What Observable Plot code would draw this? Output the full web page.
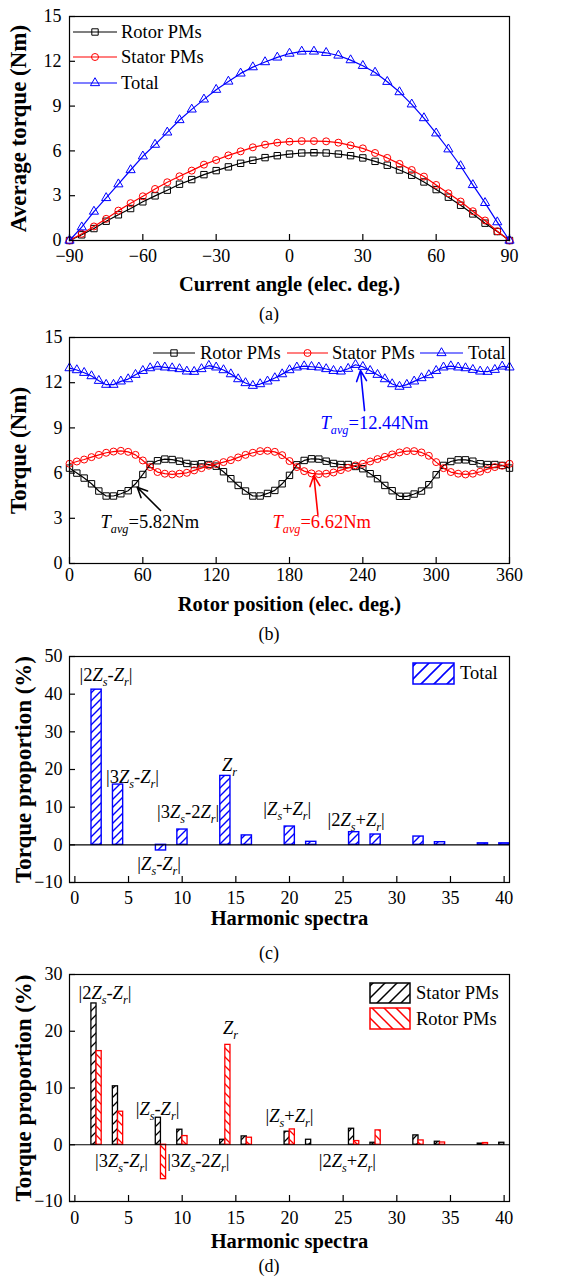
<!DOCTYPE html>
<html>
<head>
<meta charset="utf-8">
<script src="https://cdn.jsdelivr.net/npm/d3@7"></script>
<script src="https://cdn.jsdelivr.net/npm/@observablehq/plot@0.6"></script>
<style>
  body { margin: 0; background: #fff; }
  #fig { position: relative; width: 581px; height: 1278px; background: #fff; overflow: hidden; }
</style>
</head>
<body>
<div id="fig"></div>
<script>
// ---------- (a) average torque versus current angle ----------
const currentAngle = [-90,-85,-80,-75,-70,-65,-60,-55,-50,-45,-40,-35,-30,-25,-20,-15,-10,-5,0,5,10,15,20,25,30,35,40,45,50,55,60,65,70,75,80,85,90];
const avgRotor  = [0,0.38,0.80,1.29,1.72,2.14,2.59,2.99,3.37,3.77,4.08,4.41,4.68,4.93,5.17,5.37,5.55,5.68,5.79,5.86,5.88,5.86,5.79,5.68,5.53,5.30,5.04,4.72,4.37,3.92,3.41,2.90,2.36,1.78,1.16,0.60,0];
const avgStator = [0,0.45,0.94,1.45,2.00,2.50,2.96,3.45,3.90,4.30,4.68,5.08,5.39,5.70,5.97,6.24,6.42,6.55,6.62,6.66,6.66,6.64,6.55,6.37,6.17,5.86,5.53,5.13,4.72,4.28,3.72,3.16,2.61,1.96,1.34,0.62,0];
const avgTotal  = [0,0.89,1.94,2.85,3.77,4.72,5.64,6.42,7.24,8.07,8.78,9.45,10.10,10.65,11.19,11.61,11.95,12.26,12.52,12.66,12.66,12.57,12.39,12.08,11.70,11.25,10.63,9.94,9.12,8.20,7.18,6.11,4.99,3.72,2.52,1.23,0];
const angleTicks = [-90,-60,-30,0,30,60,90];
const torqueTicks = [0,3,6,9,12,15];

// ---------- (b) torque versus rotor position ----------
const rotorPosition = [0,6,12,18,24,30,36,42,48,54,60,66,72,78,84,90,96,102,108,114,120,126,132,138,144,150,156,162,168,174,180,186,192,198,204,210,216,222,228,234,240,246,252,258,264,270,276,282,288,294,300,306,312,318,324,330,336,342,348,354,360];
const instRotor = [6.33,6.00,5.67,5.29,4.81,4.48,4.48,4.63,4.83,5.29,5.91,6.57,6.82,6.93,6.90,6.79,6.64,6.57,6.62,6.57,6.46,
  6.09,5.63,5.18,4.81,4.48,4.48,4.65,4.85,5.29,5.85,6.55,6.84,6.95,6.93,6.79,6.64,6.57,6.57,6.44,6.29,
  5.96,5.63,5.18,4.83,4.46,4.46,4.61,4.81,5.23,5.89,6.51,6.77,6.88,6.88,6.79,6.62,6.57,6.57,6.51,6.33];
const instStator = [6.62,6.77,6.90,7.06,7.21,7.35,7.43,7.48,7.41,7.21,6.84,6.40,6.07,5.96,5.91,5.96,6.02,6.18,6.33,6.49,6.60,
  6.73,6.86,7.04,7.21,7.35,7.46,7.48,7.41,7.19,6.80,6.40,6.13,5.98,5.93,5.96,6.04,6.20,6.35,6.51,6.62,
  6.77,6.93,7.08,7.24,7.37,7.46,7.46,7.37,7.15,6.73,6.33,6.07,5.96,5.91,5.96,6.09,6.26,6.40,6.49,6.62];
const instTotal = [12.97,12.84,12.66,12.44,12.13,11.87,11.87,12.09,12.24,12.53,12.79,12.97,13.08,13.02,12.97,12.91,12.75,12.73,12.91,13.13,13.02,
  12.84,12.57,12.24,11.98,11.80,11.91,12.09,12.31,12.57,12.84,13.02,13.10,13.06,13.02,12.91,12.79,12.75,12.93,13.19,13.06,
  12.79,12.53,12.24,11.91,11.74,11.87,12.09,12.31,12.51,12.79,13.02,13.10,13.02,12.97,12.86,12.75,12.73,12.86,13.08,13.02];
const positionTicks = [0,60,120,180,240,300,360];
// average-torque callouts: label anchor and arrow (tail -> head), in data units
const avgNames  = ["T_avg=5.82Nm", "T_avg=6.62Nm", "T_avg=12.44Nm"];
const avgLabelX = [25.4, 166.1, 205.4];
const avgLabelY = [2.72, 2.72, 9.33];
const avgArrowX1 = [74.5, 203.2, 241.4];
const avgArrowY1 = [3.52, 3.25, 10.15];
const avgArrowX2 = [55.4, 199.9, 238.1];
const avgArrowY2 = [5.06, 5.84, 12.81];

// ---------- (c), (d) harmonic torque proportion ----------
const harmonicOrder = [2,4,8,10,14,16,20,22,26,28,32,34,38,40];
const shareTotal  = [41.2,16.0,-1.5,4.06,18.3,2.5,4.86,0.8,3.36,2.74,2.2,0.7,0.4,0.4];
const shareStator = [24.9,10.3,4.76,2.65,0.88,1.47,2.3,0.88,2.82,0.35,1.65,0.53,0.2,0.35];
const shareRotor  = [16.5,5.82,-6.06,1.53,17.6,1.24,2.7,0,0.65,2.53,0.76,0.4,0.3,0];
const harmonicTicks = [0,5,10,15,20,25,30,35,40];
const shareTicksC = [-10,0,10,20,30,40,50];
const shareTicksD = [-10,0,10,20,30];
const termNamesC = ["|2Z_s-Z_r|","|3Z_s-Z_r|","Z_r","|3Z_s-2Z_r|","|Z_s+Z_r|","|2Z_s+Z_r|","|Z_s-Z_r|"];
const termXC = [2.9,5.37,14.4,10.56,19.8,26.2,7.86];
const termYC = [45.1,18.1,21.3,8.6,9.36,6.6,-5.1];
const termNamesD = ["|2Z_s-Z_r|","Z_r","|Z_s-Z_r|","|Z_s+Z_r|","|3Z_s-Z_r|","|3Z_s-2Z_r|","|2Z_s+Z_r|"];
const termXD = [2.8,14.5,7.7,20.0,4.35,11.5,25.4];
const termYD = [26.7,20.5,6.2,5.0,-2.9,-2.9,-2.9];

// ---------- styling ----------
const serif = '"Liberation Serif", "Times New Roman", serif';
const BLACK = "#000000", RED = "#ff0000", BLUE = "#0000ff";
const W = 581, ML = 69, MR = 72, PW = W - ML - MR;
const TICK_FONT = 18, XTITLE_FONT = 20.5, YTITLE_FONT = 23, NOTE_FONT = 18.5;
const fig = document.getElementById("fig");

const seriesA = [
  {name: "Rotor PMs",  values: avgRotor,  color: BLACK, symbol: "square",   r: 3.6},
  {name: "Stator PMs", values: avgStator, color: RED,   symbol: "circle",   r: 3.5},
  {name: "Total",      values: avgTotal,  color: BLUE,  symbol: "triangle", r: 3.4}
];
const seriesB = [
  {name: "Rotor PMs",  values: instRotor,  color: BLACK, symbol: "square",   r: 3.6},
  {name: "Stator PMs", values: instStator, color: RED,   symbol: "circle",   r: 3.5},
  {name: "Total",      values: instTotal,  color: BLUE,  symbol: "triangle", r: 3.4}
];
const avgColors = [BLACK, RED, BLUE];

function lineMarks(xs, series) {
  const marks = [];
  for (const s of series) {
    const rows = xs.map((x, i) => ({x, y: s.values[i]}));
    marks.push(Plot.line(rows, {x: "x", y: "y", stroke: s.color, strokeWidth: 1.2}));
    marks.push(Plot.dot(rows, {x: "x", y: "y", symbol: () => s.symbol, r: s.r, stroke: s.color, strokeWidth: 1, fill: "none"}));
  }
  return marks;
}

// italic Z/T and italic subscripts written as _xyz
function richText(root) {
  d3.select(root).selectAll("text")
    .filter(function() { return this.textContent.includes("_"); })
    .each(function() {
      const src = this.textContent;
      const el = d3.select(this);
      el.text(null);
      let shifted = false;
      for (const m of src.matchAll(/([ZT])|_([a-z]+)|([^ZT_]+)/g)) {
        const t = el.append("tspan");
        if (m[2]) {
          t.text(m[2]).attr("font-style", "italic").attr("font-size", "0.66em").attr("dy", 5);
          shifted = true;
          continue;
        }
        if (m[1]) t.text(m[1]).attr("font-style", "italic");
        else t.text(m[3]);
        if (shifted) { t.attr("dy", -5); shifted = false; }
      }
    });
}

function panel({top, mt, ph, mb, xDomain, yDomain, xTicks, yTicks, xPad, yPad = 7, xTitle, xTitleDy, yTitle, yTitleDx, marks, over = []}) {
  const svg = Plot.plot({
    width: W, height: mt + ph + mb,
    marginTop: mt, marginBottom: mb, marginLeft: ML, marginRight: MR,
    style: {fontFamily: serif, fontSize: TICK_FONT + "px", color: "black", background: "transparent", overflow: "visible"},
    x: {domain: xDomain, label: null},
    y: {domain: yDomain, label: null},
    marks: [
      ...marks,
      Plot.tickX(xTicks, {x: d => d, insetTop: ph - 6, stroke: BLACK, strokeWidth: 1.2}),
      Plot.tickY(yTicks, {y: d => d, insetRight: PW - 6, stroke: BLACK, strokeWidth: 1.2}),
      Plot.frame({stroke: BLACK, strokeWidth: 1.2}),
      Plot.axisX({ticks: xTicks, tickSize: 0, tickPadding: xPad, label: null, fontSize: TICK_FONT}),
      Plot.axisY({ticks: yTicks, tickSize: 0, tickPadding: yPad, label: null, fontSize: TICK_FONT}),
      Plot.text([xTitle], {frameAnchor: "bottom", lineAnchor: "middle", textAnchor: "middle", dy: xTitleDy, fontWeight: "bold", fontSize: XTITLE_FONT}),
      Plot.text([yTitle], {frameAnchor: "left", lineAnchor: "middle", textAnchor: "middle", rotate: -90, dx: yTitleDx, fontWeight: "bold", fontSize: YTITLE_FONT}),
      ...over
    ]
  });
  svg.style.position = "absolute";
  svg.style.left = "0px";
  svg.style.top = top + "px";
  fig.appendChild(svg);
  richText(svg);
  return svg;
}

// (a)
panel({
  top: 0, mt: 16, ph: 224, mb: 60,
  xDomain: [-90, 90], yDomain: [0, 15], xTicks: angleTicks, yTicks: torqueTicks, xPad: 9, yPad: 8,
  xTitle: "Current angle (elec. deg.)", xTitleDy: 44, yTitle: "Average torque (Nm)", yTitleDx: -51,
  marks: lineMarks(currentAngle, seriesA)
});

// (b)
const avgCallouts = avgNames.map((t, i) => ({t, x: avgLabelX[i], y: avgLabelY[i], x1: avgArrowX1[i], y1: avgArrowY1[i], x2: avgArrowX2[i], y2: avgArrowY2[i], c: avgColors[i]}));
panel({
  top: 320, mt: 17, ph: 226, mb: 60,
  xDomain: [0, 360], yDomain: [0, 15], xTicks: positionTicks, yTicks: torqueTicks, xPad: 5,
  xTitle: "Rotor position (elec. deg.)", xTitleDy: 41, yTitle: "Torque (Nm)", yTitleDx: -51,
  marks: lineMarks(rotorPosition, seriesB),
  over: [
    Plot.arrow(avgCallouts, {x1: "x1", y1: "y1", x2: "x2", y2: "y2", stroke: d => d.c, strokeWidth: 1.6, headLength: 11, headAngle: 50}),
    Plot.text(avgCallouts, {x: "x", y: "y", text: "t", fill: d => d.c, textAnchor: "start", fontSize: NOTE_FONT})
  ]
});

// (c)
const barsC = harmonicOrder.map((h, i) => ({h, v: shareTotal[i]}));
const termsC = termNamesC.map((t, i) => ({t, x: termXC[i], y: termYC[i]}));
panel({
  top: 640, mt: 16, ph: 226, mb: 45,
  xDomain: [-0.5, 40.5], yDomain: [-10, 50], xTicks: harmonicTicks, yTicks: shareTicksC, xPad: 9,
  xTitle: "Harmonic spectra", xTitleDy: 36, yTitle: "Torque proportion (%)", yTitleDx: -46,
  marks: [
    Plot.rect(barsC, {x1: d => d.h - 0.45, x2: d => d.h + 0.5, y1: () => 0, y2: d => d.v, fill: "url(#hatchC)", stroke: BLUE, strokeWidth: 1.4}),
    Plot.ruleY([0], {stroke: BLACK, strokeWidth: 1.2}),
    Plot.text(termsC, {x: "x", y: "y", text: "t", fontSize: NOTE_FONT})
  ]
});

// (d)
const barsD = harmonicOrder.map((h, i) => ({h, s: shareStator[i], r: shareRotor[i]}));
const termsD = termNamesD.map((t, i) => ({t, x: termXD[i], y: termYD[i]}));
panel({
  top: 958, mt: 16, ph: 227, mb: 52,
  xDomain: [-0.5, 40.5], yDomain: [-10, 30], xTicks: harmonicTicks, yTicks: shareTicksD, xPad: 10,
  xTitle: "Harmonic spectra", xTitleDy: 40, yTitle: "Torque proportion (%)", yTitleDx: -46,
  marks: [
    Plot.rect(barsD, {x1: d => d.h - 0.46, x2: d => d.h + 0.02, y1: () => 0, y2: d => d.s, fill: "url(#hatchDS)", stroke: BLACK, strokeWidth: 1.3}),
    Plot.rect(barsD.filter(d => d.r !== 0), {x1: d => d.h + 0.02, x2: d => d.h + 0.5, y1: () => 0, y2: d => d.r, fill: "url(#hatchDR)", stroke: RED, strokeWidth: 1.3}),
    Plot.ruleY([0], {stroke: BLACK, strokeWidth: 1.2}),
    Plot.text(termsD, {x: "x", y: "y", text: "t", fontSize: NOTE_FONT})
  ]
});

// ---------- legends, hatch patterns and panel captions ----------
const over = d3.select(fig).append("svg")
  .attr("width", W).attr("height", 1278)
  .style("position", "absolute").style("left", "0px").style("top", "0px")
  .style("font-family", serif);
const defs = over.append("defs");
function hatch(id, color, s, dir, sw) {
  const p = defs.append("pattern").attr("id", id).attr("patternUnits", "userSpaceOnUse").attr("width", s).attr("height", s);
  p.append("rect").attr("width", s).attr("height", s).attr("fill", "white");
  const d = dir === "/"
    ? `M0,${s} L${s},0 M${-s/4},${s/4} L${s/4},${-s/4} M${s*3/4},${s*5/4} L${s*5/4},${s*3/4}`
    : `M0,0 L${s},${s} M${-s/4},${s*3/4} L${s/4},${s*5/4} M${s*3/4},${-s/4} L${s*5/4},${s/4}`;
  p.append("path").attr("d", d).attr("stroke", color).attr("stroke-width", sw).attr("fill", "none");
}
hatch("hatchC", BLUE, 8, "/", 1.4);
hatch("hatchDS", BLACK, 9, "/", 1.3);
hatch("hatchDR", RED, 9, "\\", 1.3);
hatch("legC", BLUE, 13, "/", 1.6);
hatch("legDS", BLACK, 12, "/", 1.5);
hatch("legDR", RED, 12, "\\", 1.5);

const symbolOf = {square: d3.symbolSquare, circle: d3.symbolCircle, triangle: d3.symbolTriangle};
function lineKey(x1, x2, y, s) {
  over.append("line").attr("x1", x1).attr("x2", x2).attr("y1", y).attr("y2", y).attr("stroke", s.color).attr("stroke-width", 1.2);
  over.append("path").attr("d", d3.symbol(symbolOf[s.symbol], s.r * s.r * Math.PI)())
    .attr("transform", `translate(${(x1 + x2) / 2},${y})`).attr("fill", "none").attr("stroke", s.color).attr("stroke-width", 1);
}
function keyText(x, y, t) {
  over.append("text").attr("x", x).attr("y", y).attr("dy", "0.32em").attr("font-size", 18.5).attr("fill", BLACK).text(t);
}

// (a) legend: stacked rows in the upper-left corner
[32, 57, 83].forEach((y, i) => { lineKey(73, 117, y, seriesA[i]); keyText(121, y, seriesA[i].name); });
// (b) legend: one row along the top
[[153, 195, 200], [287, 328, 332], [420, 463, 468]].forEach(([a, b, tx], i) => { lineKey(a, b, 353, seriesB[i]); keyText(tx, 353, seriesB[i].name); });
// (c) legend
over.append("rect").attr("x", 413).attr("y", 663).attr("width", 41).attr("height", 21).attr("fill", "url(#legC)").attr("stroke", BLUE).attr("stroke-width", 1.5);
keyText(460, 673, "Total");
// (d) legend
over.append("rect").attr("x", 370).attr("y", 983).attr("width", 40).attr("height", 20).attr("fill", "url(#legDS)").attr("stroke", BLACK).attr("stroke-width", 1.5);
keyText(416, 993, "Stator PMs");
over.append("rect").attr("x", 370).attr("y", 1008).attr("width", 40).attr("height", 21).attr("fill", "url(#legDR)").attr("stroke", RED).attr("stroke-width", 1.5);
keyText(416, 1019, "Rotor PMs");

// captions
[["(a)", 314], ["(b)", 634], ["(c)", 953], ["(d)", 1266]].forEach(([t, y]) => {
  over.append("text").attr("x", 269).attr("y", y).attr("dy", "0.32em").attr("text-anchor", "middle").attr("font-size", 18).text(t);
});
</script>
</body>
</html>
